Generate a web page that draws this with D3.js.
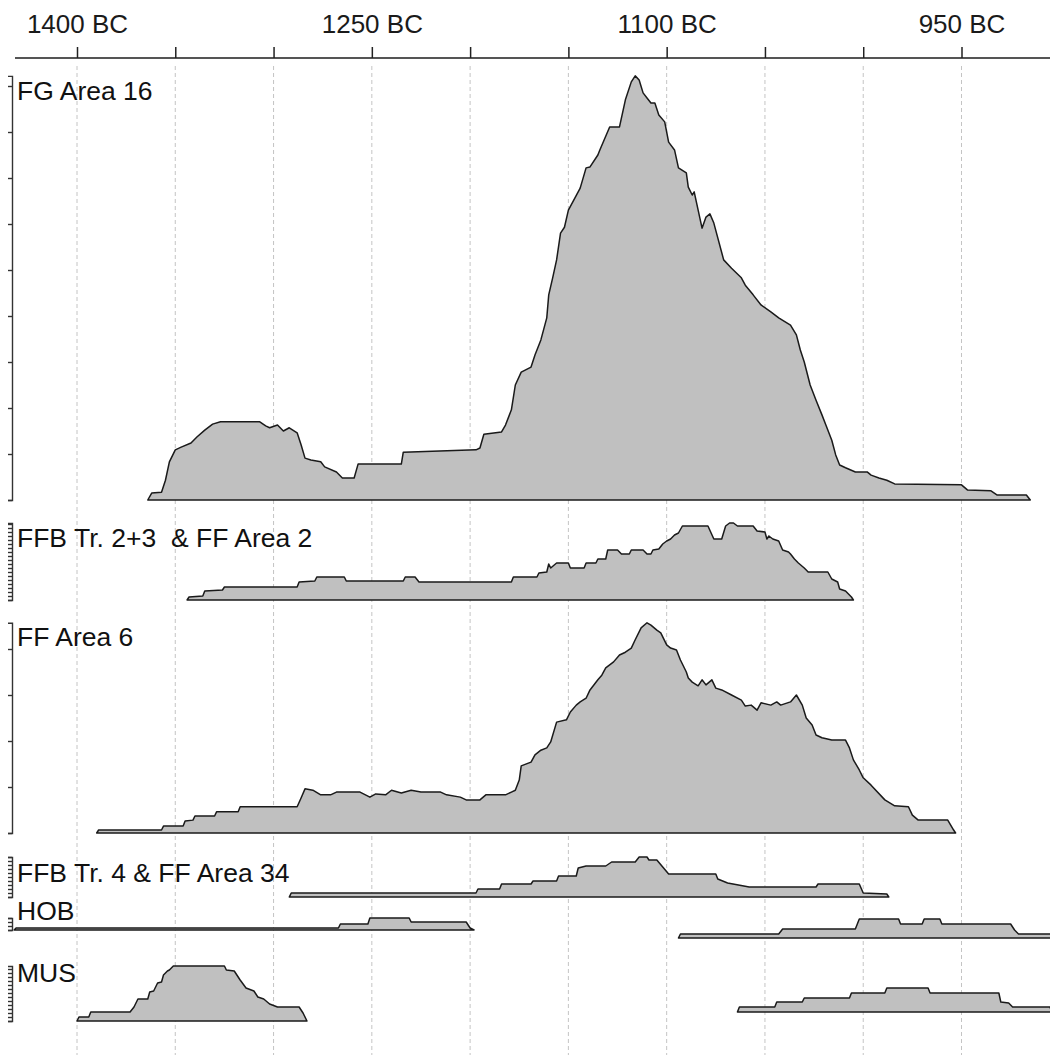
<!DOCTYPE html>
<html>
<head>
<meta charset="utf-8">
<script src="https://cdn.jsdelivr.net/npm/d3@7.9.0/dist/d3.min.js"></script>
<style>
  body { margin: 0; background: #fff; }
  svg { display: block; font-family: "Liberation Sans", Arial, sans-serif; }
  .label { white-space: pre; }
</style>
</head>
<body>
<svg id="chart" width="1050" height="1055"></svg>
<script>
// time axis (years BC)
const tickYears = [1400, 1350, 1300, 1250, 1200, 1150, 1100, 1050, 1000, 950];
const labelYears = [1400, 1250, 1100, 950];

const panelNames = ['FG Area 16', 'FFB Tr. 2+3  & FF Area 2', 'FF Area 6', 'FFB Tr. 4 & FF Area 34', 'HOB', 'MUS'];

// FG Area 16
const fgYears = [1364,1362,1357,1355,1353,1350,1347,1342,1339,1335,1331,1327,1307,1304,1302,1298,1295,1292,1288,1286,
  1284,1281,1276,1274,1268,1265,1259,1257,1235,1234,1197,1195,1193,1184,1182,1179,1177,1174,1169,1167,
  1164,1161,1160,1158,1156,1154,1152,1150,1144,1141,1139,1135,1134,1129,1124,1121,1118,1116,1114,1112,
  1110,1108,1106,1104,1101,1099,1096,1094,1090,1089,1087,1086,1082,1080,1078,1076,1071,1067,1062,1060,
  1056,1052,1047,1043,1037,1034,1032,1030,1027,1024,1021,1019,1016,1014,1012,1009,1004,998,996,992,
  988,984,950,947,935,932,917,915];
const fgValues = [0,1.5,1.7,4.3,8.3,10.9,11.5,12.4,13.7,15.2,16.5,17.0,17.0,16.1,15.7,16.3,15.0,15.7,14.6,12.0,
  9.1,8.7,8.3,7.2,6.1,4.8,4.8,7.8,7.8,10.4,10.9,11.3,14.3,14.8,16.3,19.6,25,27.8,28.9,31.5,
  34.8,39.6,44.6,48.3,52.2,58,59.3,63,67.8,72.2,72.4,75,76.1,81.1,81.1,87,90.9,92.2,91.3,88.5,
  87.4,86.3,86.3,83.7,82.2,77.8,76.1,72.2,71.1,68,66.3,67,59.1,61.5,62.2,60.2,52.2,50.4,48.3,46.7,
  44.6,42.4,40.9,39.6,38,35.9,32.6,30,25,21.7,18.5,16.3,13,9.8,7.6,7,6.1,6.1,5.4,4.8,
  4.3,3.5,3.3,2.2,2.0,1.1,1.1,0];

// FFB Tr. 2+3 & FF Area 2
const ffbYears = [1344,1343,1336,1335,1326,1325,1288,1287,1279,1278,1264,1263,1234,1233,1228,1226,1179,1178,1166,1165,
  1161,1160,1159,1156,1150,1149,1142,1141,1136,1135,1131,1130,1125,1123,1119,1118,1112,1110,1108,1107,
  1104,1102,1100,1098,1096,1094,1092,1079,1076,1072,1070,1068,1066,1064,1056,1054,1050,1049,1048,1046,
  1043,1041,1038,1037,1035,1033,1030,1028,1018,1016,1013,1012,1009,1006,1005];
const ffbValues = [0,0.75,1,2.25,2.5,3.25,3.25,4.5,4.75,5.75,5.75,4.75,4.75,5.75,5.75,4.5,4.5,5.75,5.75,6.75,
  7,9,8,9.25,9.25,8,8,9.25,9.25,10.25,10.25,12.5,12.5,11.5,11.5,12.5,12.5,11.5,11.5,12.5,
  12.75,14,14.75,15.25,16.25,16.75,18.5,18.5,15.25,15.25,18.5,19.25,19.25,18.5,18.5,17.25,17,15.25,16,15.25,
  14.75,12.5,12,11.5,10.25,9.25,8,7,7,5.25,4.5,2.75,2.25,0.75,0];

// FF Area 6
const ff6Years = [1390,1389,1357,1356,1346,1345,1341,1340,1330,1329,1318,1317,1288,1286,1284,1280,1276,1271,1268,1256,
  1251,1248,1243,1240,1235,1230,1225,1215,1212,1205,1202,1195,1192,1182,1179,1177,1175,1174,1169,1167,
  1164,1161,1159,1156,1151,1149,1146,1144,1141,1139,1135,1133,1131,1127,1124,1121,1118,1116,1113,1110,
  1108,1105,1103,1100,1098,1095,1093,1090,1089,1087,1084,1082,1080,1077,1075,1072,1067,1062,1060,1057,
  1054,1052,1047,1044,1042,1037,1034,1031,1029,1026,1024,1021,1016,1009,1007,1005,1002,1000,996,989,
  984,977,975,972,957,954,953];
const ff6Values = [0,0.65,0.65,1.5,1.5,2.6,2.8,3.7,3.7,4.6,4.6,5.7,5.7,7.6,9.6,9.3,8.3,8.3,8.9,8.9,
  7.8,8.5,8.3,9.3,8.7,9.3,8.9,8.9,8.3,7.8,7.2,7.2,8.3,8.3,8.9,9.3,11.5,14.6,15.4,17,
  18,18.5,19.8,24.1,24.6,26.3,27.8,28.5,29.3,31.1,33.3,34.3,35.9,37.2,38.7,39.3,40.2,42,44.6,45.7,
  45.2,44.1,43.5,40.9,40.2,39.8,37.6,35,33.7,32.8,32,33.3,32.2,33.3,31.5,31.1,30,28.9,27.6,27.8,
  26.7,28.3,27.8,28.5,27.8,28.5,30,27.8,25,23.5,21.3,20.7,20.2,20.2,18.5,15.9,13.7,12,10.4,7.2,
  5.9,5.7,3.9,2.8,2.8,0.65,0];

// FFB Tr. 4 & FF Area 34
const ffb4Years = [1292,1291,1197,1196,1185,1184,1169,1168,1156,1155,1146,1145,1141,1131,1128,1116,1114,1110,1109,1105,
  1102,1099,1075,1074,1069,1058,1024,1023,1002,1000,988,987];
const ffb4Values = [0,1,1,2,2,3.25,3.25,4,4,5.25,5.25,7.25,7.75,7.75,8.75,8.75,10,10,9.25,9.25,
  7.5,5.75,5.75,4.5,3.5,2.5,2.5,3.25,3.25,1,0.75,0];

// HOB
const hobAYears = [1432,1431,1267,1266,1252,1251,1231,1230,1202,1200,1198];
const hobAValues = [0,0.5,0.5,1.5,1.5,3,3,2,2,0.5,0];
const hobBYears = [1094,1093,1043,1041,1004,1002,982,981,970,969,961,960,925,923,921,900,899];
const hobBValues = [0,1,1,2.25,2.25,4.75,4.75,3.5,3.5,4.75,4.75,3.5,3.5,2,1,1,0];

// MUS
const musAYears = [1400,1399,1394,1393,1373,1371,1369,1364,1363,1361,1359,1357,1356,1354,1353,1351,1325,1324,1320,1317,
  1314,1310,1308,1305,1302,1298,1287,1285,1283];
const musAValues = [0,1,1,2.25,2.25,3.5,5.5,5.5,7.25,7.5,9.5,9.75,11.5,12.5,12.75,13.75,13.75,12.75,12.5,10.25,
  8.25,7.5,6,5.5,4.25,3.5,3.5,2,0];
const musBYears = [1064,1063,1045,1044,1031,1030,1007,1006,989,988,967,966,931,930,926,924,905,904];
const musBValues = [0,1.25,1.25,2.5,2.5,3.5,3.5,4.75,4.75,6,6,4.75,4.75,2.5,2.25,1.25,1.25,0];

// layout
const panels = [
  { k: 4.6, step: 10, labelY: 100, parts: [{ years: fgYears, values: fgValues, base: 500 }] },
  { k: 4, step: 1, labelY: 547, parts: [{ years: ffbYears, values: ffbValues, base: 600 }] },
  { k: 4.6, step: 10, labelY: 646, parts: [{ years: ff6Years, values: ff6Values, base: 833 }] },
  { k: 4, step: 1, labelY: 882, parts: [{ years: ffb4Years, values: ffb4Values, base: 897 }] },
  { k: 4, step: 1, labelY: 920, parts: [{ years: hobAYears, values: hobAValues, base: 930 },
                                         { years: hobBYears, values: hobBValues, base: 938 }] },
  { k: 4, step: 1, labelY: 982, parts: [{ years: musAYears, values: musAValues, base: 1021 },
                                         { years: musBYears, values: musBValues, base: 1012 }] }
];

const svg = d3.select('#chart');
const x = d3.scaleLinear().domain([1400, 950]).range([77, 961.5]);
const axisY = 58;

// dashed grid
svg.append('g')
  .selectAll('line')
  .data(tickYears)
  .join('line')
  .attr('x1', d => x(d)).attr('x2', d => x(d))
  .attr('y1', 66).attr('y2', 1055)
  .attr('stroke', '#c4c4c4')
  .attr('stroke-width', 1)
  .attr('stroke-dasharray', '4,3');

// top axis
svg.append('line')
  .attr('x1', 15).attr('x2', 1050)
  .attr('y1', axisY).attr('y2', axisY)
  .attr('stroke', '#555').attr('stroke-width', 2);

const xAxis = svg.append('g')
  .attr('transform', `translate(0,${axisY})`)
  .call(d3.axisTop(x)
    .tickValues(tickYears)
    .tickSize(11)
    .tickPadding(14)
    .tickFormat(d => labelYears.includes(d) ? d + ' BC' : ''));
xAxis.select('.domain').remove();
xAxis.selectAll('.tick line').attr('stroke', '#222').attr('stroke-width', 1.5);
xAxis.selectAll('.tick text')
  .attr('font-size', 26)
  .attr('font-family', '"Liberation Sans", Arial, sans-serif')
  .attr('fill', '#1a1a1a');

const area = d3.area().curve(d3.curveLinear);

panels.forEach((p, i) => {
  p.parts.forEach(part => {
    const y = d3.scaleLinear().domain([0, 10]).range([part.base, part.base - 10 * p.k]);
    const pts = d3.zip(part.years, part.values);
    svg.append('path')
      .datum(pts)
      .attr('d', area.x(d => x(d[0])).y0(part.base).y1(d => y(d[1])))
      .attr('fill', '#c0c0c0')
      .attr('stroke', '#1a1a1a')
      .attr('stroke-width', 1.5)
      .attr('stroke-linejoin', 'round');
  });

  // left density axis
  const first = p.parts[0];
  const peak = d3.max(first.values);
  const yAxis = d3.scaleLinear().domain([0, peak]).range([first.base, first.base - peak * p.k]);
  const g = svg.append('g')
    .attr('transform', 'translate(12,0)')
    .call(d3.axisLeft(yAxis)
      .tickValues(d3.range(0, peak + 1e-9, p.step))
      .tickSize(4)
      .tickSizeOuter(4)
      .tickFormat(''));
  g.selectAll('path, line').attr('stroke', '#333').attr('stroke-width', 1.4);

  svg.append('text')
    .attr('class', 'label')
    .attr('x', 17)
    .attr('y', p.labelY)
    .attr('font-size', 26.5)
    .attr('fill', '#111')
    .text(panelNames[i]);
});
</script>
</body>
</html>
